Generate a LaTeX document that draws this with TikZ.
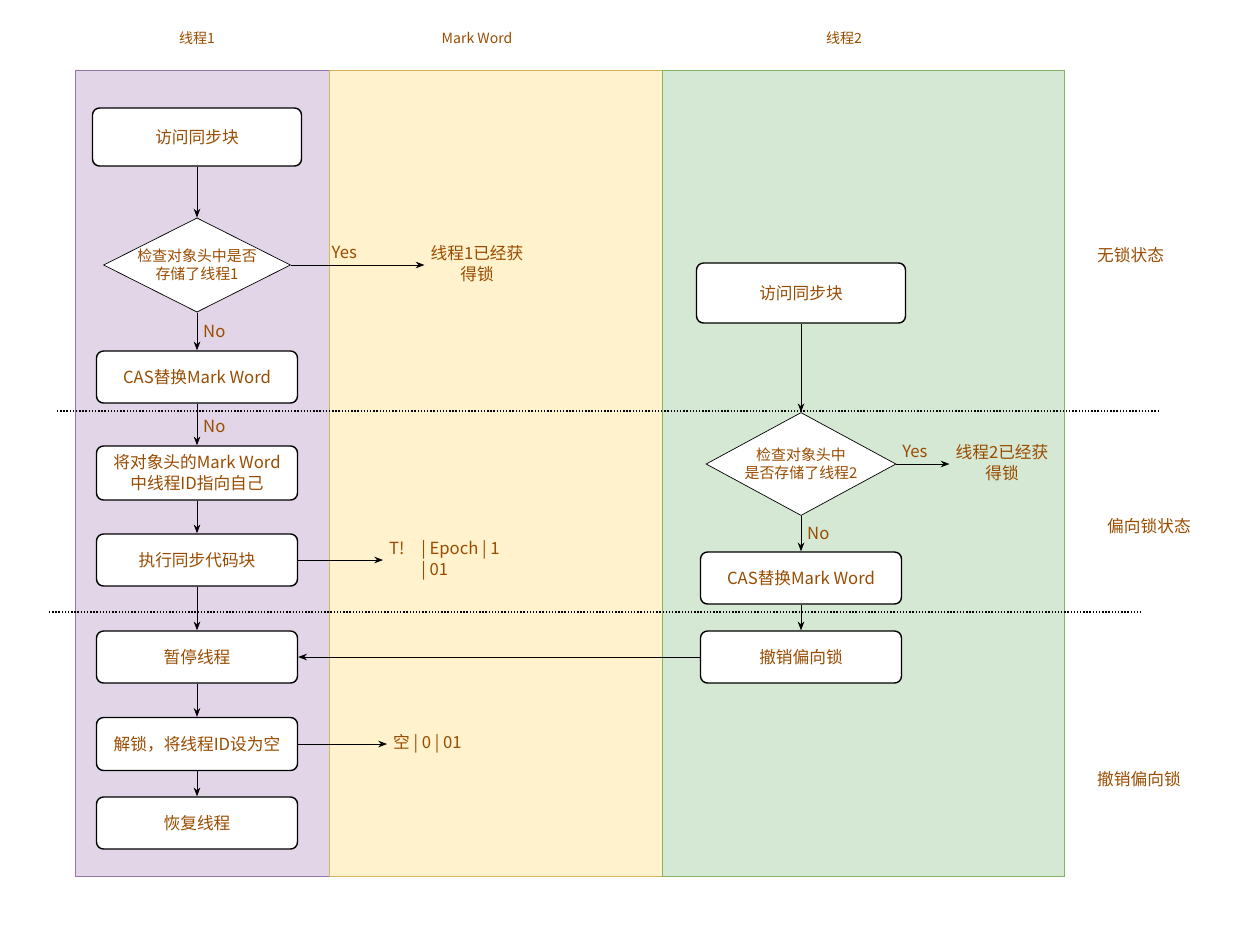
\documentclass[tikz,border=0pt]{standalone}
\usepackage{fontspec}
\setmainfont{Noto Sans CJK SC}
\usepackage{tikz}
\usetikzlibrary{shapes.geometric,arrows.meta}
\definecolor{txtcolor}{HTML}{994C00}
\definecolor{lanepurple}{HTML}{E1D5E7}
\definecolor{lanepurpleline}{HTML}{9673A6}
\definecolor{laneyellow}{HTML}{FFF2CC}
\definecolor{laneyellowline}{HTML}{D6B656}
\definecolor{lanegreen}{HTML}{D5E8D4}
\definecolor{lanegreenline}{HTML}{82B366}
\tikzset{
  action/.style={draw=black, thick, fill=white, rounded corners=4pt, minimum width=201*0.02cm,
    minimum height=52*0.02cm, align=center, text=txtcolor, font=\fontsize{9.5}{12}\selectfont},
  check/.style={draw=black, fill=white, diamond, aspect=1.9, inner sep=0pt, align=center,
    text=txtcolor, font=\fontsize{8.5}{10}\selectfont},
  lbl/.style={align=center, text=txtcolor, font=\fontsize{9.5}{12}\selectfont},
  head/.style={text=txtcolor, font=\fontsize{8}{10}\selectfont},
  flow/.style={-{Stealth[length=5pt]}, black},
}
\begin{document}
\begin{tikzpicture}[x=0.02cm, y=-0.02cm]
\useasboundingbox (0,0) rectangle (1239,924);
% LANES
\filldraw[fill=lanepurple, draw=lanepurpleline] (75,70) rectangle (329,876);
\filldraw[fill=laneyellow, draw=laneyellowline] (329,70) rectangle (662,876);
\filldraw[fill=lanegreen, draw=lanegreenline] (662,70) rectangle (1064,876);
\node[head] (h1) at (197,38) {线程1};
\node[head] (h2) at (477,38) {Mark Word};
\node[head] (h3) at (844,38) {线程2};
% STATE SEPARATORS
\draw[densely dotted, thick] (57,411) -- (1160,411);
\draw[densely dotted, thick] (49,612) -- (1143,612);
\node[lbl, text width=1em] (s1) at (1106,255) {无锁状态};
\node[lbl, text width=1em] (s2) at (1116,526) {偏向锁状态};
\node[lbl, text width=1em] (s3) at (1106,779) {撤销偏向锁};

% THREAD 1
\node[action, minimum width=209*0.02cm, minimum height=58*0.02cm] (a1) at (197,137) {访问同步块};
\node[check, minimum width=187*0.02cm, minimum height=94*0.02cm] (d1) at (197,265) {检查对象头中是否\\存储了线程1};
\node[action] (c1) at (197,377) {CAS替换Mark Word};
\node[action, minimum height=54*0.02cm] (b1) at (197,473) {将对象头的Mark Word\\中线程ID指向自己};
\node[action] (e1) at (197,560) {执行同步代码块};
\node[action] (p1) at (197,657) {暂停线程};
\node[action, minimum height=53*0.02cm] (u1) at (197,744) {解锁，将线程ID设为空};
\node[action] (r1) at (197,823) {恢复线程};
% MARK WORD
\node[lbl] (m1) at (477,264) {线程1已经获\\得锁};
\node[lbl, anchor=west, align=left] (m2) at (383,560) {T!\quad | Epoch | 1\\\hphantom{T!\quad}| 01};
\node[lbl, anchor=west] (m3) at (387,744) {空 | 0 | 01};
% THREAD 2
\node[action, minimum width=209*0.02cm, minimum height=60*0.02cm] (a2) at (801,293) {访问同步块};
\node[check, minimum width=190*0.02cm, minimum height=103*0.02cm] (d2) at (801,464) {检查对象头中\\是否存储了线程2};
\node[action] (c2) at (801,578) {CAS替换Mark Word};
\node[action] (v2) at (801,657) {撤销偏向锁};
\node[lbl] (m4) at (1002,463) {线程2已经获\\得锁};

% CONNECTORS
\draw[flow] (a1) -- (d1);
\draw[flow] (d1) -- node[lbl, above, pos=0.4] {Yes} (d1.east -| m1.west);
\draw[flow] (d1) -- node[lbl, right, pos=0.5] {No} (c1);
\draw[flow] (c1) -- node[lbl, right, pos=0.55] {No} (b1);
\draw[flow] (b1) -- (e1);
\draw[flow] (e1) -- (m2.west |- e1.east);
\draw[flow] (e1) -- (p1);
\draw[flow] (p1) -- (u1);
\draw[flow] (u1) -- (m3);
\draw[flow] (u1) -- (r1);
\draw[flow] (a2) -- (d2);
\draw[flow] (d2) -- node[lbl, above, pos=0.35] {Yes} (m4.west |- d2.east);
\draw[flow] (d2) -- node[lbl, right, pos=0.5] {No} (c2);
\draw[flow] (c2) -- (v2);
\draw[flow] (v2) -- (p1);
\end{tikzpicture}
\end{document}
